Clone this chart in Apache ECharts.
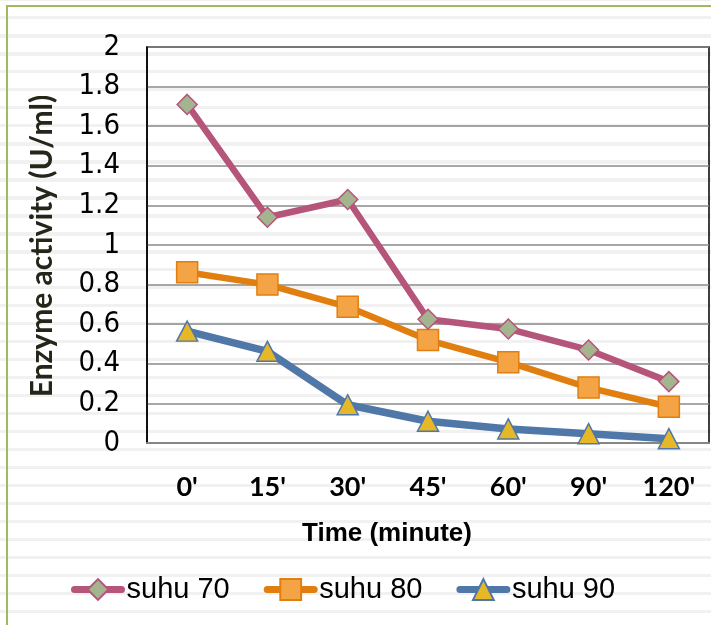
<!DOCTYPE html>
<html>
<head>
<meta charset="utf-8">
<script src="https://cdn.jsdelivr.net/npm/echarts@6/dist/echarts.min.js"></script>
<style>
  html, body { margin: 0; padding: 0; background: #fff; }
  #wrap {
    position: relative; width: 711px; height: 625px; overflow: hidden;
    background-image: repeating-linear-gradient(180deg, #f1f1f1 0px, #f1f1f1 1.5px, #ffffff 1.5px, #ffffff 16px, #f1f1f1 16px, #f1f1f1 18px);
  }
  #frame {
    position: absolute; left: 6px; top: 5px; width: 720px; height: 640px;
    border-left: 2px solid #9fba63; border-top: 2px solid #9fba63;
  }
  #chart { position: absolute; left: 0; top: 0; width: 711px; height: 625px; }
</style>
</head>
<body>
<div id="wrap">
  <div id="frame"></div>
  <div id="chart"></div>
</div>
<script>
const categories = ["0'", "15'", "30'", "45'", "60'", "90'", "120'"];
const suhu70 = [1.71, 1.14, 1.23, 0.625, 0.576, 0.47, 0.31];
const suhu80 = [0.862, 0.80, 0.688, 0.52, 0.408, 0.28, 0.183];
const suhu90 = [0.565, 0.463, 0.193, 0.11, 0.071, 0.047, 0.022];
const seriesNames = ['suhu 70', 'suhu 80', 'suhu 90'];
const yTitle = 'Enzyme activity (U/ml)';
const xTitle = 'Time (minute)';

const chart = echarts.init(document.getElementById('chart'), null, { renderer: 'canvas' });
const narrow = "'Liberation Sans Narrow', 'DejaVu Sans Condensed', 'Liberation Sans', sans-serif";

chart.setOption({
  backgroundColor: 'transparent',
  animation: false,
  grid: {
    left: 147, top: 47, right: 2, bottom: 182,
    show: true, borderColor: '#000', borderWidth: 1.5, backgroundColor: 'transparent'
  },
  legend: {
    left: 66, top: 570,
    itemWidth: 47, itemHeight: 26, itemGap: 34,
    lineStyle: { width: 7, cap: 'round' },
    textStyle: { fontFamily: "'Liberation Sans', Arial, sans-serif", fontSize: 29, color: '#000' },
    data: seriesNames
  },
  graphic: [
    {
      type: 'text', left: 302, top: 521,
      style: { text: xTitle, font: "bold 26px 'Liberation Sans', Arial, sans-serif", fill: '#000' }
    },
    {
      type: 'text', x: 42, y: 246, rotation: Math.PI / 2,
      style: { text: yTitle, font: "bold 30px Lato, sans-serif", fill: '#24261a', align: 'center', verticalAlign: 'middle' }
    }
  ],
  xAxis: {
    type: 'category', data: categories, boundaryGap: true,
    axisLine: { show: true, lineStyle: { color: '#868686', width: 2 } },
    axisTick: { show: false },
    axisLabel: { margin: 31, fontFamily: 'Lato, sans-serif', fontWeight: 'bold', fontSize: 27, color: '#000' },
    splitLine: { show: false }
  },
  yAxis: {
    type: 'value', min: 0, max: 2, interval: 0.2,
    axisLine: { show: true, lineStyle: { color: '#000', width: 1.5 } },
    axisTick: { show: false },
    axisLabel: { margin: 27, fontFamily: narrow, fontSize: 29, color: '#000' },
    splitLine: { show: true, lineStyle: { color: '#8a8a8a', width: 1.5 } }
  },
  series: [
    {
      name: seriesNames[0], type: 'line', data: suhu70,
      symbol: 'diamond', symbolSize: 20,
      lineStyle: { color: '#b6557a', width: 6.5 },
      itemStyle: { color: '#a3b48e', borderColor: '#b6557a', borderWidth: 1.5 },
      z: 4
    },
    {
      name: seriesNames[1], type: 'line', data: suhu80,
      symbol: 'rect', symbolSize: 21,
      lineStyle: { color: '#e07f10', width: 6.5 },
      itemStyle: { color: '#f4a445', borderColor: '#e07f10', borderWidth: 1.5 },
      z: 3
    },
    {
      name: seriesNames[2], type: 'line', data: suhu90,
      symbol: 'triangle', symbolSize: [21, 20],
      lineStyle: { color: '#4f77a8', width: 7.5 },
      itemStyle: { color: '#e6b827', borderColor: '#4f77a8', borderWidth: 1.5 },
      z: 2
    }
  ]
});
</script>
</body>
</html>
